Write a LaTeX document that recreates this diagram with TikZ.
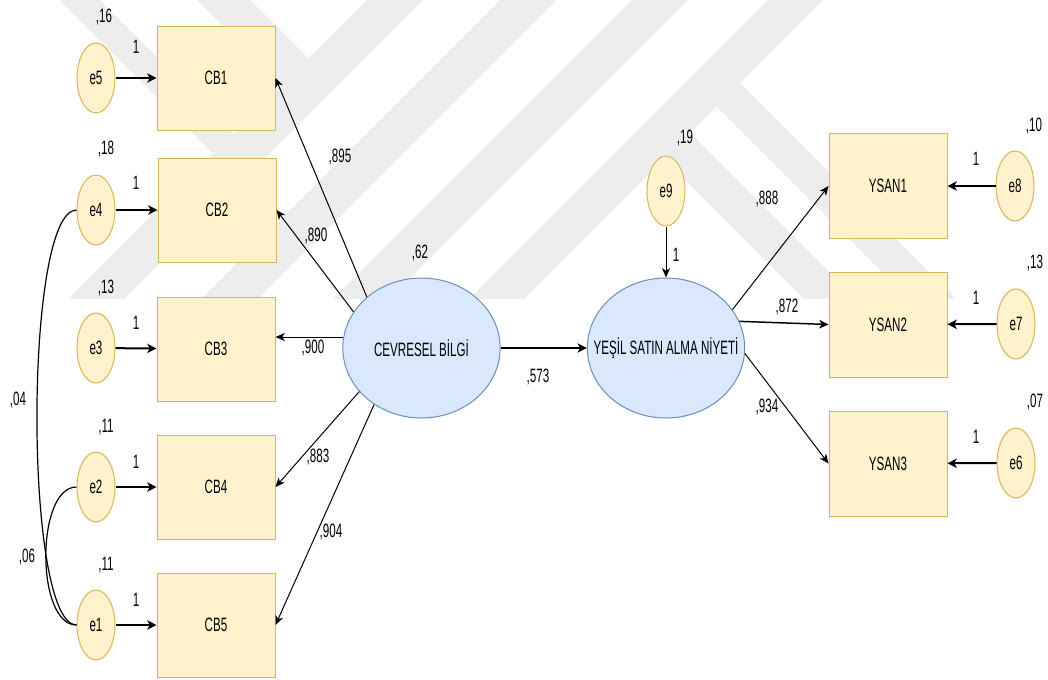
\documentclass[tikz,border=0pt]{standalone}
\usepackage{fontspec}
\setmainfont{Liberation Sans}[FakeStretch=0.6]
\usetikzlibrary{arrows.meta,shapes.geometric}

\definecolor{errfill}{HTML}{FFF2CC}
\definecolor{errline}{HTML}{D6B656}
\definecolor{latfill}{HTML}{DAE8FC}
\definecolor{latline}{HTML}{6C8EBF}
\definecolor{wmgray}{RGB}{237,237,237}

\tikzset{
  errn/.style={ellipse, draw=errline, fill=errfill, line width=0.75pt,
    minimum width=28.5pt, minimum height=52.5pt, inner sep=0pt},
  obsbox/.style={rectangle, draw=errline, fill=errfill, line width=0.75pt,
    minimum width=88.5pt, minimum height=78pt, inner sep=0pt},
  latent/.style={ellipse, draw=latline, fill=latfill, line width=0.75pt,
    minimum width=118pt, minimum height=105pt, inner sep=0pt},
  lbl/.style={inner sep=0pt},
  thinarr/.style={-{Stealth[length=7pt,width=6pt,inset=2pt]}, line width=0.75pt},
  midarr/.style={-{Stealth[length=7pt,width=6.5pt,inset=2pt]}, line width=1.1pt},
  thickarr/.style={-{Stealth[length=7pt,width=7pt,inset=2pt]}, line width=1.5pt},
  covline/.style={line width=0.9pt},
  wm/.style={fill=wmgray, draw=none}
}

\begin{document}
\begin{tikzpicture}[x=0.75pt,y=-0.75pt,font=\fontsize{14.5}{16}\selectfont]
\useasboundingbox (0,0) rectangle (1048,679);
\fill[white] (0,0) rectangle (1048,679);

% pale chevron pattern in the background
\begin{scope}
  \clip (0,0) rectangle (1048,298);
  % bands rising to the right
  \foreach \a/\b in {367/423, 500/556, 632/688, 768/823}
    \fill[wm] (\a+10,-10) -- (\b+10,-10) -- (\b-310,310) -- (\a-310,310) -- cycle;
  % bands falling to the right
  \fill[wm] (50,-10) -- (90,-10) -- (233.5,133.5) -- (213.5,153.5) -- cycle;
  \fill[wm] (187,-10) -- (240,-10) -- (308.5,58.5) -- (282,85) -- cycle;
  \fill[wm] (740,83) -- (967,310) -- (920,310) -- (716.5,106.5) -- cycle;
  \fill[wm] (690,133) -- (867,310) -- (815,310) -- (664,159) -- cycle;
\end{scope}

% error terms, left block
\node[errn] (e5) at (96,78)  {e5};
\node[errn] (e4) at (96,210) {e4};
\node[errn] (e3) at (96,348) {e3};
\node[errn] (e2) at (96,487) {e2};
\node[errn] (e1) at (96,625) {e1};

% indicators of CEVRESEL BILGI
\node[obsbox] (cb1) at (216,78)  {CB1};
\node[obsbox] (cb2) at (217,210) {CB2};
\node[obsbox] (cb3) at (216,349) {CB3};
\node[obsbox] (cb4) at (216,487) {CB4};
\node[obsbox] (cb5) at (216,625) {CB5};

% latent variables (text boxed to zero width so it does not widen the ellipse)
\node[latent] (cev) at (421.5,348) {\makebox[0pt]{CEVRESEL BİLGİ}};
\node[latent] (ysn) at (666,348)   {\makebox[0pt]{YEŞİL SATIN ALMA NİYETİ}};
\node[errn]   (e9)  at (666,191)   {e9};

% indicators of YESIL SATIN ALMA NIYETI
\node[obsbox,minimum height=78.75pt] (ysan1) at (888,186)   {YSAN1};
\node[obsbox,minimum height=78.75pt] (ysan2) at (888,324.5) {YSAN2};
\node[obsbox,minimum height=78.75pt] (ysan3) at (888,463.5) {YSAN3};

% error terms, right block
\node[errn] (e8) at (1015,186) {e8};
\node[errn] (e7) at (1016,324) {e7};
\node[errn] (e6) at (1016,463) {e6};

% error paths
\draw[thickarr] (e5) -- (cb1);
\draw[thickarr] (e4) -- (cb2);
\draw[thickarr] (e3) -- (cb3);
\draw[thickarr] (e2) -- (cb4);
\draw[thickarr] (e1) -- (cb5);
\draw[thickarr] (e8) -- (ysan1);
\draw[thickarr] (e7) -- (ysan2);
\draw[thickarr] (e6) -- (ysan3);
\draw[thinarr]  (e9) -- (ysn);

% loadings
\draw[thinarr] (cev.137.7) -- (cb1.east);
\draw[thinarr] (cev.152.4) -- (cb2.east);
\draw[thinarr] (cev.172) -- (cev.172 -| cb3.east);
\draw[thinarr] (cev.215.5) -- (cb4.east);
\draw[thinarr] (cev.230.9) -- (cb5.east);
\draw[thinarr] (ysn.30.6) -- (ysan1.west);
\draw[midarr]  (ysn.20) -- (ysan2.west);
\draw[thinarr] (ysn.356) -- (ysan3.west);

% structural path
\draw[thickarr] (cev) -- (ysn);

% error covariances
\draw[covline] (e4.west) to[out=180,in=180,looseness=0.326] (e1.west);
\draw[covline] (e2.west) to[out=180,in=180,looseness=0.76] (e1.west);

% variances
\node[lbl] (v5) at (104,17)  {,16};
\node[lbl] (v4) at (106,149) {,18};
\node[lbl] (v3) at (106,288) {,13};
\node[lbl] (v2) at (106,427) {,11};
\node[lbl] (v1) at (106,565) {,11};
\node[lbl] (v9) at (685,138) {,19};
\node[lbl] (vc) at (420,253) {,62};
\node[lbl] (v8) at (1034,126) {,10};
\node[lbl] (v7) at (1035,263) {,13};
\node[lbl] (v6) at (1035,402) {,07};

% fixed error weights
\node[lbl] (w5) at (136,47)  {1};
\node[lbl] (w4) at (136,183) {1};
\node[lbl] (w3) at (136,323) {1};
\node[lbl] (w2) at (136,462) {1};
\node[lbl] (w1) at (136,600) {1};
\node[lbl] (w9) at (676,255) {1};
\node[lbl] (w8) at (976,159) {1};
\node[lbl] (w7) at (976,298) {1};
\node[lbl] (w6) at (976,437) {1};

% loading estimates
\node[lbl] (l1) at (340,157) {,895};
\node[lbl] (l2) at (316,236) {,890};
\node[lbl] (l3) at (313,348) {,900};
\node[lbl] (l4) at (318,457) {,883};
\node[lbl] (l5) at (331,532) {,904};
\node[lbl] (l6) at (767,199) {,888};
\node[lbl] (l7) at (787,307) {,872};
\node[lbl] (l8) at (767,407) {,934};
\node[lbl] (ls) at (538,377) {,573};

% covariance estimates
\node[lbl] (c1) at (18,400) {,04};
\node[lbl] (c2) at (27,557) {,06};
\end{tikzpicture}
\end{document}
